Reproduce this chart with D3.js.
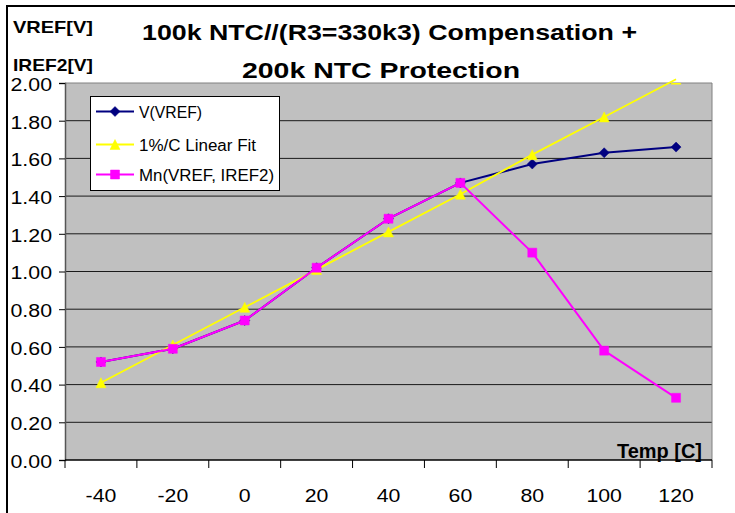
<!DOCTYPE html>
<html>
<head>
<meta charset="utf-8">
<script src="https://cdn.jsdelivr.net/npm/d3@7"></script>
<style>
  body { margin: 0; background: #fff; }
  svg { display: block; font-family: "Liberation Sans", Arial, sans-serif; }
</style>
</head>
<body>
<svg id="chart" width="735" height="513"></svg>
<script>
// Temperature categories (°C) and the three measured / derived series
const temps = ["-40", "-20", "0", "20", "40", "60", "80", "100", "120"];
const vref = [0.52, 0.59, 0.74, 1.02, 1.28, 1.47, 1.57, 1.63, 1.66];
const linearFit = [0.41, 0.61, 0.81, 1.01, 1.21, 1.41, 1.62, 1.82, 2.02];
const minVrefIref2 = [0.52, 0.59, 0.74, 1.02, 1.28, 1.47, 1.10, 0.58, 0.33];

const yTicks = [0, 0.2, 0.4, 0.6, 0.8, 1.0, 1.2, 1.4, 1.6, 1.8, 2.0];
const seriesNames = ["V(VREF)", "1%/C Linear Fit", "Mn(VREF, IREF2)"];
const titleLines = ["100k NTC//(R3=330k3) Compensation +", "200k NTC Protection"];
const yTitleLines = ["VREF[V]", "IREF2[V]"];
const xTitle = "Temp [C]";

const svg = d3.select("#chart");
const W = 735, H = 513;
const plot = { left: 65, right: 712, top: 83, bottom: 460 };

// stretch a text node horizontally to a given width
function fitWidth(node, w) {
  node.setAttribute("textLength", w);
  node.setAttribute("lengthAdjust", "spacingAndGlyphs");
}
function stretch(sel, k) {
  sel.each(function () { fitWidth(this, this.getComputedTextLength() * k); });
}

svg.append("rect").attr("width", W).attr("height", H).attr("fill", "#fff");

// chart frame
svg.append("line").attr("x1", 7).attr("x2", 7).attr("y1", 5).attr("y2", H)
  .attr("stroke", "#000").attr("stroke-width", 2);
svg.append("line").attr("x1", 6).attr("x2", W).attr("y1", 6).attr("y2", 6)
  .attr("stroke", "#000").attr("stroke-width", 2);

const x = d3.scaleBand().domain(temps).range([plot.left, plot.right]).padding(0);
const y = d3.scaleLinear().domain([0, 2]).range([plot.bottom, plot.top]);
const cx = d => x(d) + x.bandwidth() / 2;

// plot area
svg.append("rect")
  .attr("x", plot.left).attr("y", plot.top)
  .attr("width", plot.right - plot.left).attr("height", plot.bottom - plot.top)
  .attr("fill", "#c0c0c0");

// horizontal gridlines
svg.append("g").selectAll("line")
  .data(yTicks.filter(v => v > 0 && v < 2))
  .join("line")
  .attr("x1", plot.left).attr("x2", plot.right)
  .attr("y1", d => y(d)).attr("y2", d => y(d))
  .attr("stroke", "#1a1a1a").attr("stroke-width", 1);

// plot border (top & right)
svg.append("path")
  .attr("d", `M${plot.left},${plot.top}H${plot.right}V${plot.bottom}`)
  .attr("fill", "none").attr("stroke", "#808080").attr("stroke-width", 1);

// y axis
const yAxis = svg.append("g")
  .attr("transform", `translate(${plot.left},0)`)
  .call(d3.axisLeft(y).tickValues(yTicks).tickSize(6).tickPadding(7)
    .tickFormat(d3.format(".2f")));
yAxis.select(".domain").attr("stroke", "#555").attr("stroke-width", 1.5);
yAxis.selectAll(".tick line").attr("stroke", "#000");
yAxis.selectAll("text")
  .attr("font-size", 17.5).attr("fill", "#000").attr("dy", "0.42em")
  .attr("font-family", "Liberation Sans, Arial, sans-serif");
stretch(yAxis.selectAll("text"), 1.22);

// x axis: labels centred in categories, ticks on category boundaries
const xAxis = svg.append("g")
  .attr("transform", `translate(0,${plot.bottom})`)
  .call(d3.axisBottom(x).tickSize(0).tickPadding(29));
xAxis.select(".domain").remove();
xAxis.selectAll("text")
  .attr("font-size", 18.5).attr("fill", "#000")
  .attr("font-family", "Liberation Sans, Arial, sans-serif");
stretch(xAxis.selectAll("text"), 1.15);

const bounds = temps.map(d => x(d)).concat([plot.right]);
xAxis.append("g").selectAll("line")
  .data(bounds).join("line")
  .attr("x1", d => d).attr("x2", d => d)
  .attr("y1", 0).attr("y2", 8)
  .attr("stroke", "#000");
xAxis.append("line")
  .attr("x1", plot.left).attr("x2", plot.right)
  .attr("y1", 0).attr("y2", 0)
  .attr("stroke", "#000").attr("stroke-width", 1.5);

// clip for markers
svg.append("clipPath").attr("id", "plotClip")
  .append("rect")
  .attr("x", plot.left).attr("y", plot.top)
  .attr("width", plot.right - plot.left).attr("height", plot.bottom - plot.top);

const markerPath = {
  diamond: r => `M0,${-r}L${r},0L0,${r}L${-r},0Z`,
  triangle: r => `M0,${-r}L${r},${r}L${-r},${r}Z`,
  square: r => `M${-r},${-r}H${r}V${r}H${-r}Z`
};

const series = [
  { name: seriesNames[0], values: vref, color: "#000080", marker: "diamond", r: 5, width: 2 },
  { name: seriesNames[1], values: linearFit, color: "#ffff00", marker: "triangle", r: 5, width: 1.8 },
  { name: seriesNames[2], values: minVrefIref2, color: "#ff00ff", marker: "square", r: 4.5, width: 2 }
];

const line = d3.line().x(d => cx(d.t)).y(d => y(d.v));

series.forEach(s => {
  const pts = temps.map((t, i) => ({ t, v: s.values[i] }));
  const g = svg.append("g");
  g.append("path")
    .attr("d", line(pts))
    .attr("fill", "none").attr("stroke", s.color).attr("stroke-width", s.width)
    .attr("stroke-linejoin", "round");
  g.append("g").attr("clip-path", "url(#plotClip)")
    .selectAll("path").data(pts).join("path")
    .attr("transform", d => `translate(${cx(d.t)},${y(d.v)})`)
    .attr("d", markerPath[s.marker](s.r))
    .attr("fill", s.color).attr("stroke", s.color).attr("stroke-width", 0.5);
});

// legend
const legend = svg.append("g");
legend.append("rect")
  .attr("x", 90.5).attr("y", 96.5).attr("width", 189).attr("height", 94)
  .attr("fill", "#fff").attr("stroke", "#000").attr("stroke-width", 1);
const legendRows = [111.5, 144.5, 174.5];
const legendWidths = [63, 117, 135];
series.forEach((s, i) => {
  const ly = legendRows[i];
  legend.append("line")
    .attr("x1", 96).attr("x2", 134).attr("y1", ly).attr("y2", ly)
    .attr("stroke", s.color).attr("stroke-width", s.width);
  legend.append("path")
    .attr("transform", `translate(115,${ly})`)
    .attr("d", markerPath[s.marker](s.r))
    .attr("fill", s.color).attr("stroke", s.color).attr("stroke-width", 0.5);
  const t = legend.append("text")
    .attr("x", 139).attr("y", ly + 6.5)
    .attr("font-size", 16).attr("fill", "#000")
    .text(s.name);
  fitWidth(t.node(), legendWidths[i]);
});

// title
const titleX = [389.5, 381];
const titleY = [40, 78];
const titleW = [495, 278];
titleLines.forEach((txt, i) => {
  const t = svg.append("text")
    .attr("x", titleX[i]).attr("y", titleY[i])
    .attr("text-anchor", "middle")
    .attr("font-size", 22.5).attr("font-weight", "bold").attr("fill", "#000")
    .text(txt);
  fitWidth(t.node(), titleW[i]);
});

// y axis title (two lines, top-left)
const yTitleY = [33, 71];
yTitleLines.forEach((txt, i) => {
  const t = svg.append("text")
    .attr("x", 13).attr("y", yTitleY[i])
    .attr("font-size", 17).attr("font-weight", "bold").attr("fill", "#000")
    .text(txt);
  fitWidth(t.node(), 80);
});

// x axis title inside the plot, bottom-right
const xt = svg.append("text")
  .attr("x", 702).attr("y", 458)
  .attr("text-anchor", "end")
  .attr("font-size", 20).attr("font-weight", "bold").attr("fill", "#000")
  .text(xTitle);
fitWidth(xt.node(), 85);
</script>
</body>
</html>
